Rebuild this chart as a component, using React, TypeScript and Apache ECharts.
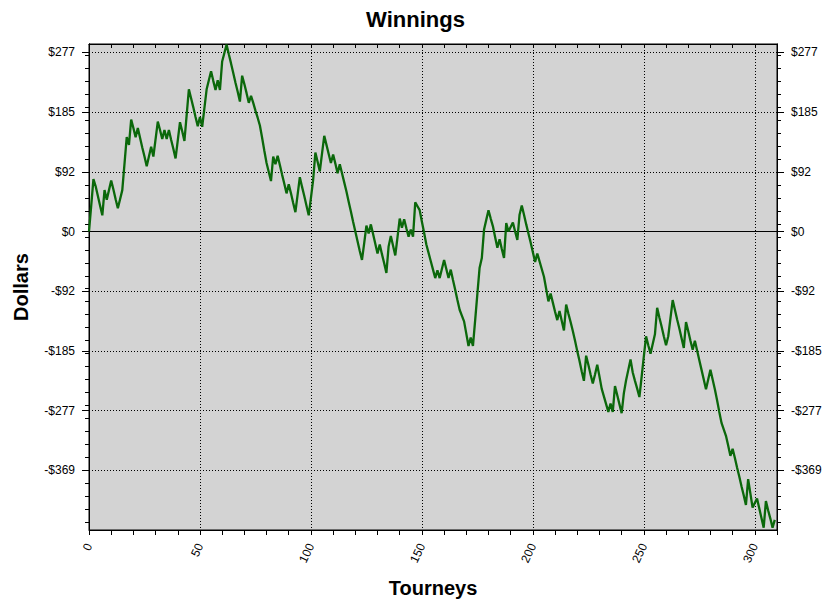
import { useEffect, useRef } from 'react';
import * as echarts from 'echarts';

// Cumulative winnings per tourney (index = tourney number)
const WINNINGS: number[] = [
  0, 40, 81, 70, 55, 40, 25, 64, 49, 64,
  79, 65, 50, 36, 50, 64, 105, 146, 134, 173,
  160, 146, 160, 145, 130, 116, 101, 116, 131, 116,
  143, 170, 157, 143, 157, 143, 157, 142, 128, 113,
  141, 169, 155, 140, 180, 220, 206, 192, 177, 163,
  177, 162, 191, 220, 234, 248, 233, 219, 234, 219,
  263, 276, 289, 274, 260, 245, 230, 216, 201, 241,
  228, 214, 199, 210, 199, 187, 176, 164, 145, 125,
  106, 92, 78, 116, 104, 117, 103, 88, 74, 59,
  73, 59, 44, 30, 57, 84, 69, 55, 40, 25,
  52, 80, 122, 108, 93, 121, 148, 134, 120, 106,
  119, 105, 90, 104, 90, 76, 62, 46, 31, 15,
  0, -15, -30, -44, -18, 9, -3, 11, -4, -19,
  -34, -20, -35, -49, -64, -23, -7, -22, -37, -9,
  20, 6, 19, 5, -8, 3, -8, 45, 39, 33,
  15, -2, -20, -33, -46, -59, -72, -60, -72, -58,
  -44, -58, -72, -59, -75, -90, -106, -121, -130, -139,
  -158, -177, -164, -177, -137, -96, -56, -41, 3, 18,
  33, 20, 8, -9, -25, -12, -27, -41, 13, 0,
  7, 14, 0, -13, 26, 40, 26, 11, -3, -17,
  -32, -47, -34, -46, -58, -70, -89, -108, -96, -110,
  -124, -137, -123, -138, -153, -113, -127, -140, -154, -169,
  -185, -200, -216, -231, -192, -206, -221, -235, -221, -206,
  -224, -243, -255, -267, -279, -266, -279, -239, -253, -267,
  -281, -250, -230, -214, -198, -218, -231, -243, -256, -225,
  -193, -162, -176, -189, -174, -159, -118, -133, -147, -162,
  -176, -162, -134, -106, -121, -136, -150, -165, -180, -140,
  -154, -169, -183, -169, -184, -199, -214, -229, -244, -229,
  -214, -229, -244, -261, -279, -296, -306, -316, -331, -347,
  -336, -350, -365, -379, -394, -408, -423, -383, -405, -427,
  -420, -413, -428, -443, -458, -417, -431, -444, -458, -446,
];

const X_LABELS = [0, 50, 100, 150, 200, 250, 300];
const X_GRID = [50, 100, 150, 200, 250, 300];
const Y_LABELS = [-369.33, -277, -184.67, -92.33, 0, 92.33, 184.67, 277];
const Y_ZERO = [0];
const Y_MINOR = [
  -450.2, -430.1, -410.0, -389.9, -369.8, -349.7, -329.6, -309.5, -289.4, -269.4,
  -249.3, -229.2, -209.1, -189.0, -168.9, -148.8, -128.7, -108.6, -88.5, -68.5,
  -48.4, -28.3, -8.2, 11.9, 32.0, 52.1, 72.2, 92.3, 112.4, 132.4,
  152.5, 172.6, 192.7, 212.8, 232.9, 253.0, 273.1,
];

const X_MIN = 0;
const X_MAX = 310;
const Y_MIN = -461.65;
const Y_MAX = 290;

const FONT = '"Liberation Sans", Arial, sans-serif';
const BLACK = '#000';

function fmtDollar(v: number): string {
  const r = Math.round(Math.abs(v));
  return (v < -0.5 ? '-' : '') + '$' + r;
}

function baseY(position: 'left' | 'right') {
  return {
    type: 'value' as const,
    min: Y_MIN,
    max: Y_MAX,
    position,
    axisLine: { show: true, onZero: false, lineStyle: { color: BLACK, width: 1 } },
    axisTick: { show: false },
    axisLabel: { show: false },
    splitLine: { show: false },
  };
}

function labelY(position: 'left' | 'right', withGrid: boolean) {
  return {
    ...baseY(position),
    axisTick: { show: true, customValues: Y_LABELS, length: 7, lineStyle: { color: BLACK, width: 1 } },
    axisLabel: {
      show: true,
      customValues: Y_LABELS,
      formatter: fmtDollar,
      margin: 14,
      color: BLACK,
      fontSize: 12,
      fontFamily: FONT,
    },
    splitLine: { show: withGrid, lineStyle: { color: BLACK, width: 1, type: [1, 2] } },
  };
}

function minorY(position: 'left' | 'right') {
  return {
    ...baseY(position),
    axisTick: { show: true, customValues: Y_MINOR, length: 4, lineStyle: { color: BLACK, width: 1 } },
  };
}

export default function App() {
  const ref = useRef<HTMLDivElement>(null);

  useEffect(() => {
    if (!ref.current) return;
    const chart = echarts.init(ref.current, null, { renderer: 'svg' });
    const option: any = {
      animation: false,
      backgroundColor: '#fff',
      title: {
        text: 'Winnings',
        left: 'center',
        top: 3,
        textStyle: { fontSize: 22, fontWeight: 'bold', color: BLACK, fontFamily: FONT },
      },
      grid: {
        left: 89,
        top: 44,
        right: 54,
        bottom: 77,
        show: true,
        backgroundColor: '#d3d3d3',
        borderColor: BLACK,
        borderWidth: 1,
        containLabel: false,
        outerBoundsMode: 'none',
      },
      xAxis: [
        {
          type: 'value',
          min: X_MIN,
          max: X_MAX,
          interval: 10,
          position: 'bottom',
          axisLine: { show: true, onZero: false, lineStyle: { color: BLACK, width: 1 } },
          axisTick: { show: true, length: 5, lineStyle: { color: BLACK, width: 1 } },
          axisLabel: {
            customValues: X_LABELS,
            rotate: 65,
            margin: 14,
            color: BLACK,
            fontSize: 12,
            fontFamily: FONT,
          },
          splitLine: { show: false },
          name: 'Tourneys',
          nameLocation: 'middle',
          nameGap: 48,
          nameTextStyle: { fontSize: 20, fontWeight: 'bold', color: BLACK, fontFamily: FONT },
        },
        {
          type: 'value',
          min: X_MIN,
          max: X_MAX,
          position: 'bottom',
          axisLine: { show: false, onZero: false },
          axisTick: { show: false, customValues: X_GRID },
          axisLabel: { show: false },
          splitLine: { show: true, lineStyle: { color: BLACK, width: 1, type: [1, 2] } },
        },
        {
          type: 'value',
          min: X_MIN,
          max: X_MAX,
          interval: 10,
          position: 'top',
          axisLine: { show: true, onZero: false, lineStyle: { color: BLACK, width: 1 } },
          axisTick: { show: true, inside: true, length: 4, lineStyle: { color: BLACK, width: 1 } },
          axisLabel: { show: false },
          splitLine: { show: false },
        },
      ],
      yAxis: [
        {
          ...labelY('left', true),
          name: 'Dollars',
          nameLocation: 'middle',
          nameGap: 58,
          nameRotate: 90,
          nameTextStyle: { fontSize: 20, fontWeight: 'bold', color: BLACK, fontFamily: FONT },
        },
        minorY('left'),
        labelY('right', false),
        minorY('right'),
        {
          ...baseY('left'),
          axisLine: { show: false, onZero: false },
          axisTick: { show: false, customValues: Y_ZERO },
          splitLine: { show: true, lineStyle: { color: BLACK, width: 1, type: 'solid' } },
        },
      ],
      series: [
        {
          type: 'line',
          xAxisIndex: 0,
          yAxisIndex: 0,
          data: WINNINGS.map((v, i) => [i, v]),
          showSymbol: false,
          symbol: 'none',
          lineStyle: { color: '#0b680b', width: 2.3 },
          z: 5,
        },
      ],
    };
    chart.setOption(option);
    return () => chart.dispose();
  }, []);

  return (
    <div
      ref={ref}
      style={{ position: 'absolute', left: 0, top: 0, width: 831, height: 607, background: '#fff' }}
    />
  );
}
